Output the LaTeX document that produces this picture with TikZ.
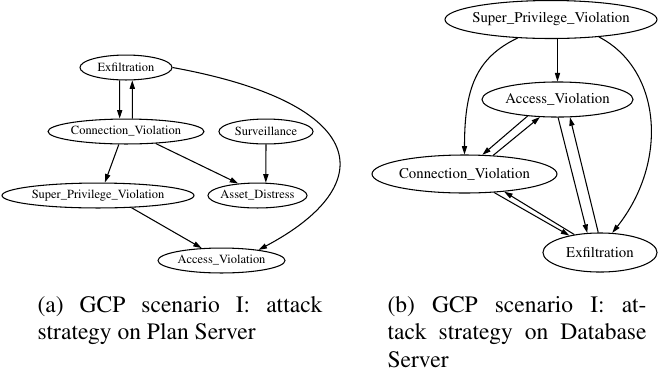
\documentclass[tikz,border=0pt]{standalone}
\usepackage[T1]{fontenc}
\usepackage{mathptmx}
\usetikzlibrary{shapes.geometric,arrows.meta}
\tikzset{>={Triangle[length=3.6pt,width=2.2pt]}}
\tikzset{%
    evtA/.style={%
        draw, ellipse, inner xsep=-2.5pt, inner ysep=0pt,
        minimum height=10.6pt, font=\fontsize{5.3}{6}\selectfont
    },
    evtB/.style={%
        draw, ellipse, inner xsep=-2.5pt, inner ysep=0pt,
        font=\fontsize{6.3}{7}\selectfont
    },
    subcap/.style={%
        anchor=north west, inner sep=0pt, align=justify,
        font=\fontsize{10}{11.6}\selectfont
    }
}

\begin{document}
\begin{tikzpicture}[x=0.425pt,y=-0.425pt,line width=0.45pt]
	\useasboundingbox (0,0) rectangle (658,374);
	% (a) plan server
	\node[evtA,minimum width=39.1pt] (exA) at (126,67.5) {Exfiltration};
	\node[evtA,minimum width=66.3pt] (conA) at (126,131.5) {Connection\_Violation};
	\node[evtA,minimum width=40pt] (survA) at (266,131.5) {Surveillance};
	\node[evtA,minimum width=81.6pt] (spvA) at (98,195.5) {Super\_Privilege\_Violation};
	\node[evtA,minimum width=42.1pt] (adA) at (257.5,195.5) {Asset\_Distress};
	\node[evtA,minimum width=54pt] (avA) at (221.5,260.5) {Access\_Violation};
	\draw[->] (exA.244) -- (conA.116);
	\draw[->] (conA.64) -- (exA.296);
	\draw[->] (conA.241) -- (spvA.62);
	\draw[->] (conA.338) -- (adA.148);
	\draw[->] (survA.south) -- (adA.57);
	\draw[->] (spvA.340) -- (avA.148);
	\draw[->] (exA.east) .. controls +(198,36) and +(123,-65) .. (avA.16);
	% (b) database server
	\node[evtB,minimum width=90.1pt,minimum height=16.15pt] (spvB) at (551,19.5) {Super\_Privilege\_Violation};
	\node[evtB,minimum width=64.2pt,minimum height=14.9pt] (avB) at (557.5,99.5) {Access\_Violation};
	\node[evtB,minimum width=78.6pt,minimum height=16.15pt] (cvB) at (464.5,174) {Connection\_Violation};
	\node[evtB,minimum width=48.5pt,minimum height=16.6pt] (exB) at (600,252.5) {Exfiltration};
	\draw[->] (spvB.south -| avB.north) -- (avB.north);
	\draw[->] (spvB.209) .. controls +(-42,20) and +(0,-65) .. (cvB.north);
	\draw[->] (spvB.340) .. controls +(62,32) and +(57,-72) .. (exB.58);
	\draw[->] (avB.209) -- (cvB.47);
	\draw[->] (cvB.33) -- (avB.225);
	\draw[->] (avB.272) -- (exB.123);
	\draw[->] (exB.95) -- (avB.305);
	\draw[->] (cvB.328) -- (exB.151);
	\draw[->] (exB.145) -- (cvB.336);
	% captions
	\node[subcap,text width=121.1pt] (capA) at (37,296) {(a) GCP scenario I: attack\linebreak strategy on Plan Server};
	\node[subcap,text width=110.1pt] (capB) at (387,296) {(b) GCP scenario I: at-\linebreak tack strategy on Database\linebreak Server};
\end{tikzpicture}
\end{document}
